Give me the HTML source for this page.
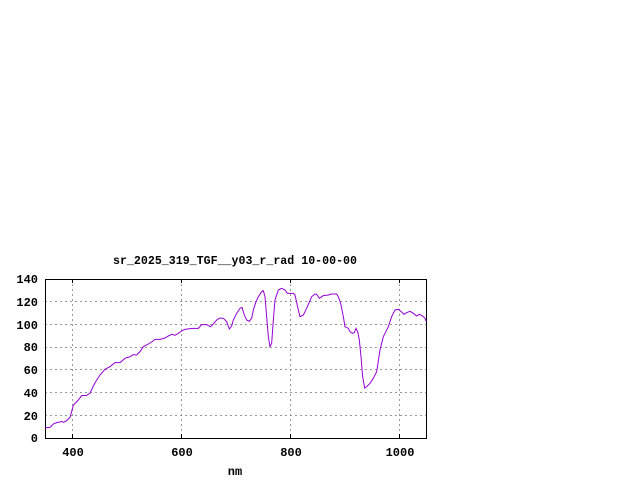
<!DOCTYPE html>
<html><head><style>body{margin:0;background:#fff}svg{display:block}text{font-family:"Liberation Mono",monospace;font-size:12px;font-weight:bold;fill:#000}</style></head>
<body>
<svg width="640" height="480" xmlns="http://www.w3.org/2000/svg">
<rect width="640" height="480" fill="#fff"/>
<g stroke="#999" stroke-width="1" stroke-dasharray="2,3">
<line x1="72.5" y1="279" x2="72.5" y2="438"/><line x1="181.5" y1="279" x2="181.5" y2="438"/><line x1="290.5" y1="279" x2="290.5" y2="438"/><line x1="399.5" y1="279" x2="399.5" y2="438"/>
<line x1="45" y1="415.5" x2="426" y2="415.5"/><line x1="45" y1="392.5" x2="426" y2="392.5"/><line x1="45" y1="369.5" x2="426" y2="369.5"/><line x1="45" y1="347.5" x2="426" y2="347.5"/><line x1="45" y1="324.5" x2="426" y2="324.5"/><line x1="45" y1="301.5" x2="426" y2="301.5"/>
</g>
<rect x="45.5" y="279.5" width="381" height="159" fill="none" stroke="#000"/>
<g stroke="#000"><line x1="72.5" y1="438" x2="72.5" y2="434"/><line x1="181.5" y1="438" x2="181.5" y2="434"/><line x1="290.5" y1="438" x2="290.5" y2="434"/><line x1="399.5" y1="438" x2="399.5" y2="434"/>
<line x1="72.5" y1="279" x2="72.5" y2="283"/><line x1="181.5" y1="279" x2="181.5" y2="283"/><line x1="290.5" y1="279" x2="290.5" y2="283"/><line x1="399.5" y1="279" x2="399.5" y2="283"/></g>
<polyline fill="none" stroke="#9400d3" stroke-width="1" vector-effect="non-scaling-stroke" transform="translate(0,250) scale(0.33333)" points="135,533 150,532 160,522 170,518 180,516 185,514 190,517 200,512 210,502 215,485 220,465 235,450 245,437 260,436 270,430 280,408 290,390 300,375 315,358 330,350 345,338 360,338 375,325 390,320 400,314 410,315 420,305 430,290 445,282 455,276 465,268 480,268 495,264 505,258 515,253 525,256 535,250 545,243 555,238 570,236 580,235 595,235 605,224 620,224 632,230 640,222 650,210 660,204 670,205 680,215 688,237 695,228 700,210 710,190 720,175 726,172 733,195 740,210 748,214 755,205 760,180 768,155 775,140 785,125 790,122 795,140 800,200 805,260 810,290 815,280 820,210 825,150 835,120 845,115 855,120 862,130 870,130 880,130 885,135 895,180 900,200 910,195 920,175 935,140 945,132 950,133 958,145 970,137 985,135 995,132 1010,132 1015,140 1022,160 1030,200 1035,230 1045,235 1050,245 1058,250 1063,248 1068,235 1073,245 1078,270 1083,320 1088,380 1094,414 1100,410 1110,400 1120,385 1130,365 1140,300 1150,260 1165,230 1175,200 1185,180 1195,178 1205,186 1212,193 1220,188 1230,184 1240,190 1250,198 1258,193 1268,198 1275,205 1279,215"/>
<g text-anchor="end"><text x="38" y="442">0</text><text x="38" y="420">20</text><text x="38" y="397">40</text><text x="38" y="374">60</text><text x="38" y="351">80</text><text x="38" y="329">100</text><text x="38" y="306">120</text><text x="38" y="283">140</text></g>
<g text-anchor="middle"><text x="73" y="456">400</text><text x="182" y="456">600</text><text x="291" y="456">800</text><text x="400" y="456">1000</text>
<text x="235" y="475">nm</text></g>
<text x="113" y="264" textLength="244" lengthAdjust="spacingAndGlyphs">sr_2025_319_TGF__y03_r_rad 10-00-00</text>
</svg>
</body></html>
